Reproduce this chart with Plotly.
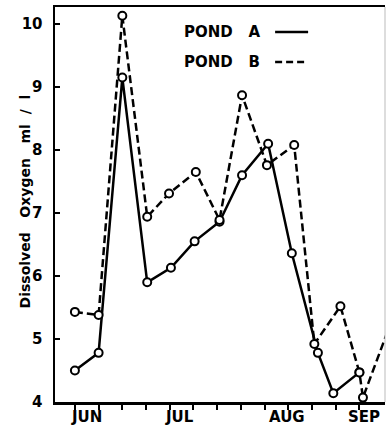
import plotly.graph_objects as go

# Data (x = weeks from first June sample)
weeks_a = [0, 1, 2, 3.05, 4.05, 5.05, 6.1, 7.05, 8.15, 9.15, 10.25, 10.9, 12.0]
oxygen_a = [4.5, 4.78, 9.15, 5.9, 6.13, 6.55, 6.86, 7.6, 8.1, 6.36, 4.78, 4.14, 4.47]
weeks_b = [0, 1, 2, 3.05, 3.97, 5.1, 6.1, 7.05, 8.1, 9.25, 10.1, 11.2, 12.0, 12.15, 13.15]
oxygen_b = [5.43, 5.38, 10.13, 6.94, 7.31, 7.65, 6.89, 8.87, 7.76, 8.08, 4.92, 5.52, 4.47, 4.07, 5.08]
month_labels = ["JUN", "JUL", "AUG", "SEP"]
month_pos = [0.5, 4.43, 8.95, 12.2]
week_ticks = list(range(0, 13))
y_ticks = [4, 5, 6, 7, 8, 9, 10]
series_names = ["POND   A", "POND   B"]

FONT = "DejaVu Sans"

fig = go.Figure()
marker = dict(symbol="circle", size=8, color="white", line=dict(color="black", width=2))
fig.add_trace(go.Scatter(x=weeks_a, y=oxygen_a, mode="lines+markers", name=series_names[0],
                         line=dict(color="black", width=2.5), marker=marker, cliponaxis=False))
fig.add_trace(go.Scatter(x=weeks_b, y=oxygen_b, mode="lines+markers", name=series_names[1],
                         line=dict(color="black", width=2.5, dash="8px,4px"), marker=marker,
                         cliponaxis=True))

# plot area sits at x 55..385, y 7..402
fig.update_layout(
    width=386, height=429,
    margin=dict(l=55, r=1, t=7, b=27, autoexpand=False),
    paper_bgcolor="white", plot_bgcolor="white",
    showlegend=False,
    xaxis=dict(range=[-0.84, 13.08], tickvals=week_ticks, ticktext=[""] * len(week_ticks),
               ticks="outside", ticklen=5, tickwidth=2, tickcolor="black",
               showgrid=False, zeroline=False, automargin=False,
               showline=True, linecolor="black", linewidth=2.5, mirror=True),
    yaxis=dict(range=[4, 10.27], tickvals=y_ticks, ticks="inside", ticklen=5, tickwidth=2,
               tickcolor="black", showgrid=False, zeroline=False, automargin=False,
               showline=True, linecolor="black", linewidth=2.5,
               ticklabelstandoff=7,
               tickfont=dict(family=FONT, size=15, color="black", weight="bold")),
)

# month labels
for lab, pos in zip(month_labels, month_pos):
    fig.add_annotation(text=lab, xref="x", yref="paper", x=pos, y=-0.038,
                       xanchor="center", yanchor="middle", showarrow=False,
                       font=dict(family=FONT, size=15, color="black", weight="bold"))

# right border (faint)
fig.add_shape(type="line", xref="paper", yref="paper", x0=1, x1=1, y0=0, y1=1,
              line=dict(color="#bbbbbb", width=1))

# y-axis title
fig.add_annotation(text="Dissolved   Oxygen   ml  /  l", xref="paper", yref="paper",
                   x=-0.121, y=0.508, textangle=-90, showarrow=False,
                   font=dict(family=FONT, size=14, color="black", weight="bold"))

# legend (text + line samples)
leg_y = [0.937, 0.861]
dashes = ["solid", "7px,4px"]
for name, ly, d in zip(series_names, leg_y, dashes):
    fig.add_annotation(text=name, xref="paper", yref="paper", x=0.385, y=ly,
                       xanchor="left", yanchor="middle", showarrow=False,
                       font=dict(family=FONT, size=15, color="black", weight="bold"))
    fig.add_shape(type="line", xref="paper", yref="paper", x0=0.667, x1=0.767, y0=ly, y1=ly,
                  line=dict(color="black", width=2.5, dash=d))

fig.write_html("out.html",
               config={"displayModeBar": False, "staticPlot": True},
               post_script="document.body.style.margin='0';document.body.style.overflow='hidden';")
